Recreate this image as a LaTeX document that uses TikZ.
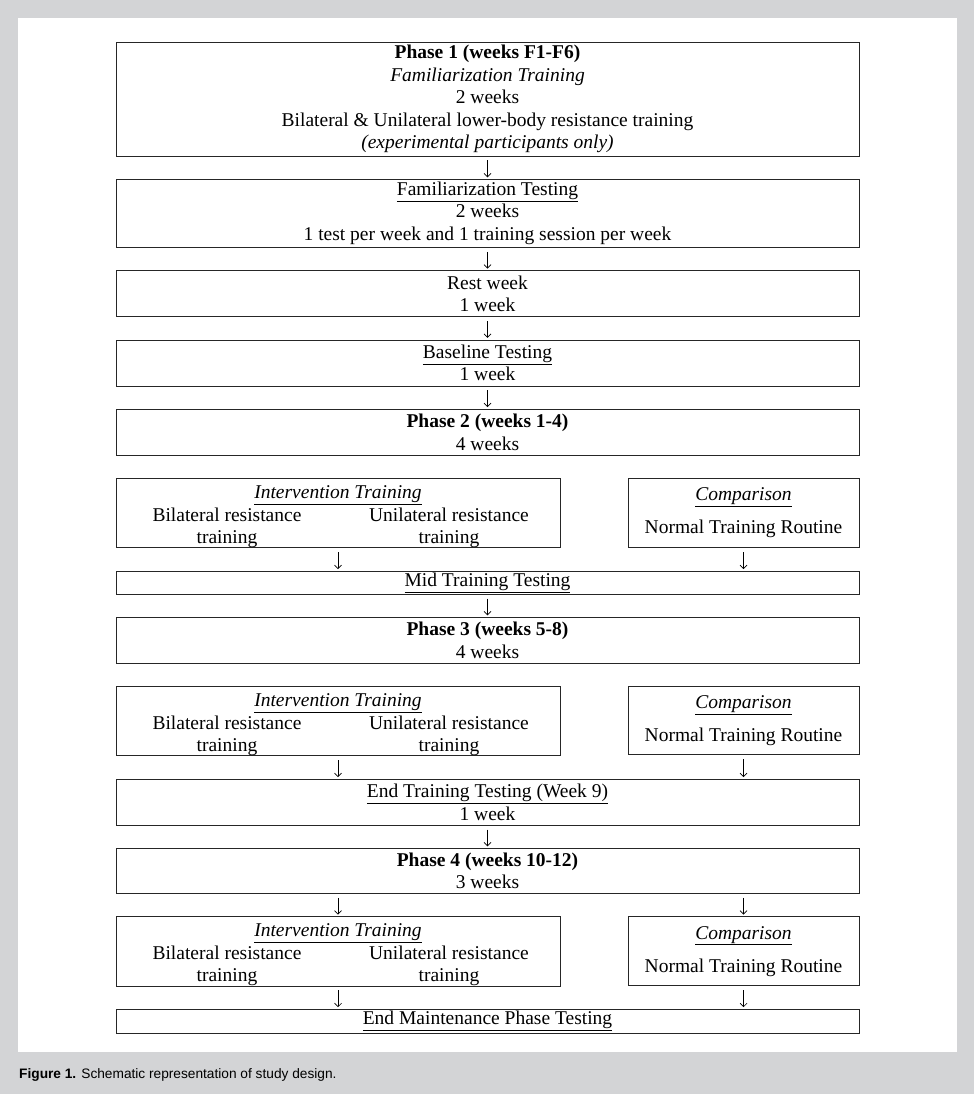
\documentclass[tikz,border=0pt]{standalone}
\usepackage{fontspec}
\setmainfont{Liberation Serif}
\newfontfamily\capfont{Liberation Sans}
\usetikzlibrary{positioning,arrows.meta}
\definecolor{pagegray}{HTML}{D3D4D6}

\begin{document}
\begin{tikzpicture}[x=1pt,y=-1pt,
        node distance=23.3pt,
        box/.style={draw=black!85, line width=0.8pt, inner sep=0pt, outer sep=0pt, align=center,
            minimum width=743pt, font=\fontsize{19.5}{22.5}\selectfont},
        flow/.style={-{Straight Barb[length=3.5pt,width=7pt]}, line width=0.7pt,
            shorten <=4.5pt, shorten >=2pt}]

        \useasboundingbox (0,0) rectangle (974,1094);
        \fill[pagegray] (0,0) rectangle (974,1094);
        \fill[white] (18,18) rectangle (957,1052);

        % main column
        \node[box, minimum height=114pt, anchor=north west] (p1) at (116,42)
            {\textbf{Phase 1 (weeks F1-F6)}\\ \textit{Familiarization Training}\\ 2 weeks\\
             Bilateral \& Unilateral lower-body resistance training\\ \textit{(experimental participants only)}};
        \node[box, minimum height=68pt, below=of p1] (famtest)
            {\underline{Familiarization Testing}\\ 2 weeks\\ 1 test per week and 1 training session per week};
        \node[box, minimum height=46pt, below=of famtest] (rest) {Rest week\\ 1 week};
        \node[box, minimum height=46pt, below=of rest] (base) {\underline{Baseline Testing}\\ 1 week};
        \node[box, minimum height=46pt, below=of base] (p2) {\textbf{Phase 2 (weeks 1-4)}\\ 4 weeks};

        \node[box, minimum width=444pt, minimum height=69pt, below=of p2.south west, anchor=north west] (int1)
            {\rule{0pt}{20pt}\underline{\textit{Intervention Training}}\\
             \makebox[222pt]{Bilateral resistance}\makebox[222pt]{Unilateral resistance}\\
             \makebox[222pt]{training}\makebox[222pt]{training}};
        \node[box, minimum width=231pt, minimum height=69pt, below=of p2.south east, anchor=north east] (cmp1)
            {\underline{\textit{Comparison}}\\[10.5pt] Normal Training Routine};
        \node[box, minimum height=23pt, below=of int1.south west, anchor=north west] (mid)
            {\underline{Mid Training Testing}};
        \node[box, minimum height=46pt, below=of mid] (p3) {\textbf{Phase 3 (weeks 5-8)}\\ 4 weeks};

        \node[box, minimum width=444pt, minimum height=68pt, below=of p3.south west, anchor=north west] (int2)
            {\rule{0pt}{20pt}\underline{\textit{Intervention Training}}\\
             \makebox[222pt]{Bilateral resistance}\makebox[222pt]{Unilateral resistance}\\
             \makebox[222pt]{training}\makebox[222pt]{training}};
        \node[box, minimum width=231pt, minimum height=68pt, below=of p3.south east, anchor=north east] (cmp2)
            {\underline{\textit{Comparison}}\\[10.5pt] Normal Training Routine};
        \node[box, minimum height=46pt, below=of int2.south west, anchor=north west] (endtest)
            {\underline{End Training Testing (Week 9)}\\ 1 week};
        \node[box, minimum height=45pt, below=of endtest] (p4) {\textbf{Phase 4 (weeks 10-12)}\\ 3 weeks};

        \node[box, minimum width=444pt, minimum height=69pt, below=of p4.south west, anchor=north west] (int3)
            {\rule{0pt}{20pt}\underline{\textit{Intervention Training}}\\
             \makebox[222pt]{Bilateral resistance}\makebox[222pt]{Unilateral resistance}\\
             \makebox[222pt]{training}\makebox[222pt]{training}};
        \node[box, minimum width=231pt, minimum height=69pt, below=of p4.south east, anchor=north east] (cmp3)
            {\underline{\textit{Comparison}}\\[10.5pt] Normal Training Routine};
        \node[box, minimum height=24pt, below=of int3.south west, anchor=north west] (maint)
            {\underline{End Maintenance Phase Testing}};

        \node[anchor=base west, inner sep=0pt, font=\capfont\fontsize{13.7}{15}\selectfont] (caption) at (19,1078)
            {\textbf{Figure 1.} Schematic representation of study design.};

        % arrows
        \draw[flow] (p1) -- (famtest);
        \draw[flow] (famtest) -- (rest);
        \draw[flow] (rest) -- (base);
        \draw[flow] (base) -- (p2);
        \draw[flow] (int1.south) -- (int1.south |- mid.north);
        \draw[flow] (cmp1.south) -- (cmp1.south |- mid.north);
        \draw[flow] (mid) -- (p3);
        \draw[flow] (int2.south) -- (int2.south |- endtest.north);
        \draw[flow] (cmp2.south) -- (cmp2.south |- endtest.north);
        \draw[flow] (endtest) -- (p4);
        \draw[flow] (p4.south -| int3.north) -- (int3.north);
        \draw[flow] (p4.south -| cmp3.north) -- (cmp3.north);
        \draw[flow] (int3.south) -- (int3.south |- maint.north);
        \draw[flow] (cmp3.south) -- (cmp3.south |- maint.north);
    \end{tikzpicture}
\end{document}
